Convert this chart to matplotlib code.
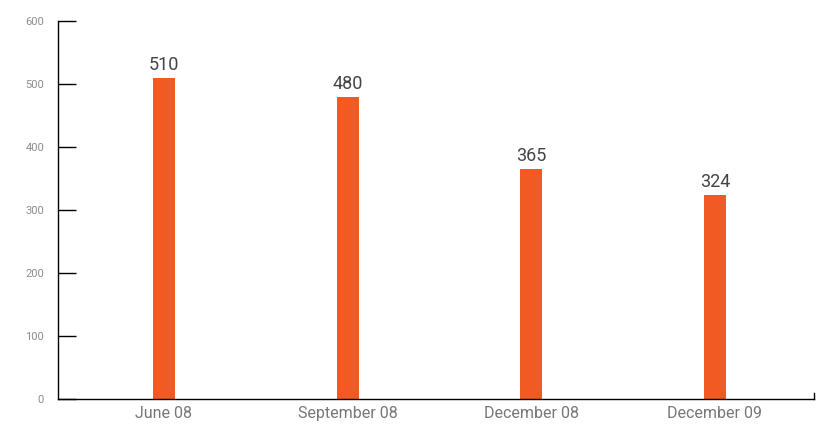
import matplotlib.pyplot as plt

# data
periods = ['June 08', 'September 08', 'December 08', 'December 09']
values = [510, 480, 365, 324]
yticks = [0, 100, 200, 300, 400, 500, 600]

plt.rcParams['font.family'] = ['Roboto', 'DejaVu Sans']

fig = plt.figure(figsize=(8.21, 4.25), dpi=100)
ax = fig.add_axes([58 / 821, 26 / 425, 756 / 821, 378 / 425])

x = list(range(len(periods)))
ax.bar(x, values, width=0.12, color='#F25A24')

for xi, v in zip(x, values):
    ax.text(xi, v + 6, str(v), ha='center', va='bottom', fontsize=13, color='#444444')

ax.set_xlim(-0.577, 3.54)
ax.set_ylim(0, 600)
ax.set_xticks(x)
ax.set_xticklabels(periods, fontsize=11.5, color='#777777')
ax.set_yticks(yticks)
ax.set_yticklabels([str(t) for t in yticks], fontsize=8, color='#8c8c8c')

ax.tick_params(axis='x', length=0, pad=5)
ax.tick_params(axis='y', direction='in', length=13, width=1, color='black', pad=10)

ax.spines['top'].set_visible(False)
ax.spines['right'].set_visible(False)
ax.spines['left'].set_linewidth(1)
ax.spines['bottom'].set_linewidth(1)

# small end mark on the right of the x axis
ax.plot([1, 1], [0, 0.015], transform=ax.transAxes, color='black', lw=1, clip_on=False)

fig.savefig('out.png', dpi=100)
